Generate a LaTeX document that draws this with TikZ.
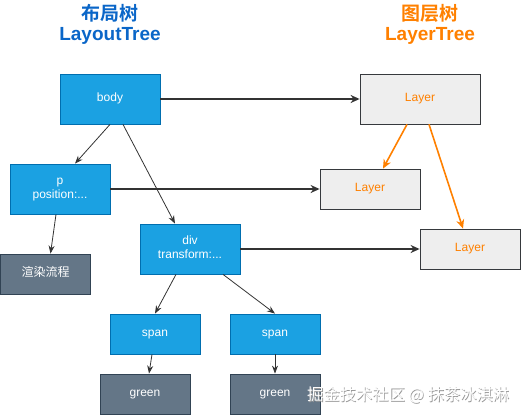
\documentclass[tikz,border=0pt]{standalone}
\usepackage{fontspec}
\setmainfont{Liberation Sans}
\newfontfamily\cjk{Noto Sans CJK SC}[BoldFont={Noto Sans CJK SC Bold}]
\usetikzlibrary{calc,arrows.meta}
\definecolor{tblue}{HTML}{0A66C8}
\definecolor{torange}{HTML}{FF8000}
\definecolor{bfill}{HTML}{1BA1E2}
\definecolor{bline}{HTML}{006EAF}
\definecolor{dfill}{HTML}{647687}
\definecolor{dline}{HTML}{314354}
\definecolor{lfill}{HTML}{EEEEEE}
\definecolor{lline}{HTML}{36393D}
\definecolor{edge}{HTML}{333333}
\newcommand{\btxt}[1]{\raisebox{-2.5pt}[0pt][0pt]{\begin{tabular}{@{}c@{}}#1\end{tabular}}}
\tikzset{
  x=1pt, y=-1pt,
  boxfont/.style={font=\fontsize{12}{14}\selectfont},
  bluebox/.style={draw=bline, fill=bfill, line width=0.8pt, text=white, boxfont, inner sep=0pt},
  darkbox/.style={draw=dline, fill=dfill, line width=0.8pt, text=white, boxfont, inner sep=0pt},
  layerbox/.style={draw=lline, fill=lfill, line width=0.8pt, text=torange, boxfont, inner sep=0pt},
  thin arrow/.style={draw=edge, line width=0.8pt, -{Stealth[length=8pt,width=6pt]}},
  thick arrow/.style={draw=edge, line width=1.6pt, -{Stealth[length=9pt,width=8pt]}},
  orange arrow/.style={draw=torange, line width=1.6pt, -{Stealth[length=9pt,width=8pt]}},
  title/.style={font=\bfseries\fontsize{19}{22}\selectfont, inner sep=0pt}
}
\begin{document}
\begin{tikzpicture}
\useasboundingbox (0,0) rectangle (521,415);
\node[title, text=tblue] (t1a) at (110,13) {\cjk\bfseries 布局树};
\node[title, text=tblue] (t1b) at (110,36) {LayoutTree};
\node[title, text=torange] (t2a) at (430,13) {\cjk\bfseries 图层树};
\node[title, text=torange] (t2b) at (430,36) {LayerTree};

\node[bluebox, minimum width=100pt, minimum height=50pt] (body) at (110,99) {\btxt{body}};
\node[layerbox, minimum width=120pt, minimum height=50pt] (L1) at (420,99) {\btxt{Layer}};
\node[bluebox, minimum width=100pt, minimum height=50pt] (p) at (60,189) {\btxt{p\\position:...}};
\node[layerbox, minimum width=100pt, minimum height=40pt] (L2) at (370,189) {\btxt{Layer}};
\node[bluebox, minimum width=100pt, minimum height=50pt] (div) at (190,249) {\btxt{div\\transform:...}};
\node[layerbox, minimum width=100pt, minimum height=40pt] (L3) at (470,249) {\btxt{Layer}};
\node[darkbox, minimum width=90pt, minimum height=40pt] (render) at (45.5,274) {\btxt{\cjk 渲染流程}};
\node[bluebox, minimum width=90pt, minimum height=40pt] (span1) at (155,334) {\btxt{span}};
\node[bluebox, minimum width=90pt, minimum height=40pt] (span2) at (275,334) {\btxt{span}};
\node[darkbox, minimum width=90pt, minimum height=40pt] (green1) at (145,394) {\btxt{green}};
\node[darkbox, minimum width=90pt, minimum height=40pt] (green2) at (275,394) {\btxt{green}};

\draw[thick arrow] (body.east) -- (L1.west);
\draw[thick arrow] (p.east) -- (L2.west);
\draw[thick arrow] (div.east) -- (L3.west);

\draw[thin arrow] (body.south) -- ($(p.north)+(15,0)$);
\draw[thin arrow] ($(body.south)+(13,0)$) -- ($(div.north)-(15,0)$);
\draw[thin arrow] ($(p.south)-(4,0)$) -- ($(render.north)+(5,0)$);
\draw[thin arrow] ($(div.south)-(14,0)$) -- (span1.north);
\draw[thin arrow] ($(div.south)+(33,0)$) -- (span2.north);
\draw[thin arrow] ($(span1.south)-(3,0)$) -- ($(green1.north)+(4,0)$);
\draw[thin arrow] (span2.south) -- (green2.north);

\draw[orange arrow] ($(L1.south)-(13,0)$) -- ($(L2.north)+(13,0)$);
\draw[orange arrow] ($(L1.south)+(9,0)$) -- ($(L3.north)-(7,0)$);

\node[font=\cjk\fontsize{16.3}{19}\selectfont, text=gray!80, inner sep=0pt, anchor=west] (wmshadow) at (307.8,395.8) {掘金技术社区 @ 抹茶冰淇淋};
\node[font=\cjk\fontsize{16.3}{19}\selectfont, text=white, inner sep=0pt, anchor=west] (wm) at (307,395) {掘金技术社区 @ 抹茶冰淇淋};
\end{tikzpicture}
\end{document}
